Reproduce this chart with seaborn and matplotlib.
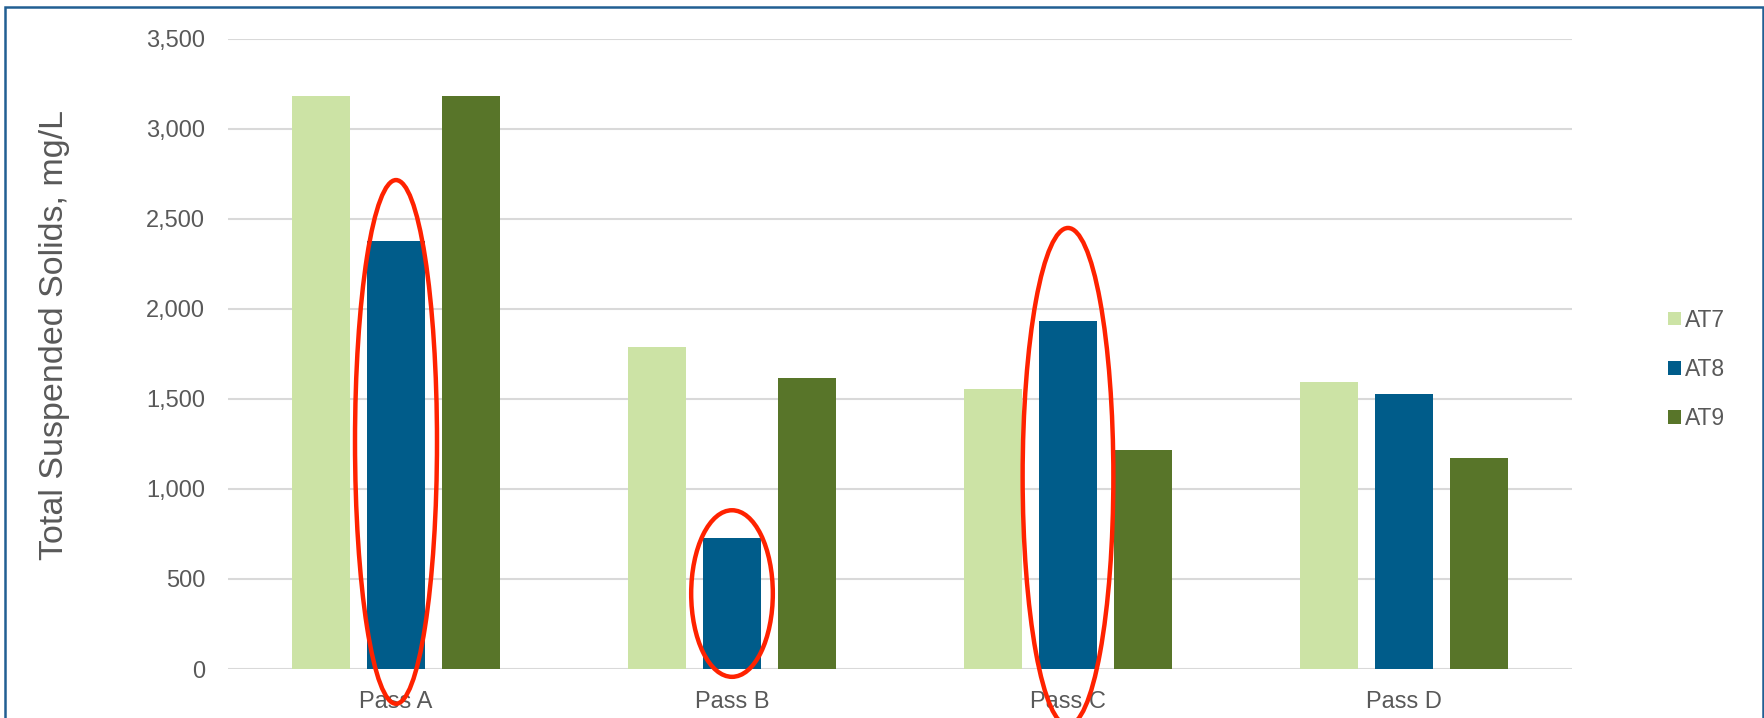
import matplotlib
matplotlib.use("Agg")
import matplotlib.pyplot as plt
from matplotlib.patches import Ellipse, Rectangle
from matplotlib.ticker import FuncFormatter, MultipleLocator
import pandas as pd
import seaborn as sns

# Total suspended solids by pass and aeration tank
passes = ["Pass A", "Pass B", "Pass C", "Pass D"]
tanks = ["AT7", "AT8", "AT9"]
at7 = [3180, 1790, 1557, 1593]
at8 = [2374, 726, 1933, 1528]
at9 = [3180, 1618, 1218, 1171]
tank_colors = ["#CCE3A5", "#005C8A", "#587529"]

# Red rings marking the AT8 bars of interest
ring_passes = ["Pass A", "Pass B", "Pass C"]
ring_mid = [1261, 419, 1068]        # ring centre, mg/L
ring_span = [2908, 925, 2762]       # ring height, mg/L
ring_width = [0.244, 0.243, 0.27]   # ring width, category units

df = pd.DataFrame({
    "Pass": passes * 3,
    "Tank": [t for t in tanks for _ in passes],
    "TSS": at7 + at8 + at9,
})

sns.set_theme(style="white")
plt.rcParams["font.family"] = ["Liberation Sans", "DejaVu Sans"]

W, H = 1765, 718
fig = plt.figure(figsize=(W / 100, H / 100), dpi=100)
ax = fig.add_axes([228 / W, 1 - 669 / H, (1572 - 228) / W, (669 - 38.7) / H])

sns.barplot(data=df, x="Pass", y="TSS", hue="Tank", order=passes,
            hue_order=tanks, palette=tank_colors, width=0.67, gap=0.227,
            saturation=1, linewidth=0, ax=ax, zorder=3)

ax.set_ylim(0, 3500)
ax.set_xlim(-0.5, len(passes) - 0.5)
ax.yaxis.set_major_locator(MultipleLocator(500))
ax.yaxis.set_major_formatter(FuncFormatter(lambda v, _: f"{v:,.0f}"))
ax.grid(axis="y", color="#D9D9D9", linewidth=1.5, zorder=0)
ax.grid(axis="x", visible=False)
ax.set_axisbelow(True)
for s in ax.spines.values():
    s.set_visible(False)
ax.tick_params(axis="both", length=0, labelsize=17, labelcolor="#595959")
ax.tick_params(axis="y", pad=16.5)
ax.tick_params(axis="x", pad=16)
ax.set_xlabel("")
ax.set_ylabel("")

fig.text(55 / W, 1 - 335 / H, "Total Suspended Solids, mg/L", rotation=90,
         ha="center", va="center", fontsize=24.5, color="#595959")

leg = ax.legend(loc="center left", bbox_to_anchor=(1668 / W, 1 - 369.5 / H),
                bbox_transform=fig.transFigure, frameon=False, fontsize=16.5,
                handlelength=0.55, handleheight=0.55, handletextpad=0.2,
                labelspacing=1.15, borderpad=0, borderaxespad=0)
for t in leg.get_texts():
    t.set_color("#595959")

for p, cy, h, w in zip(ring_passes, ring_mid, ring_span, ring_width):
    ring = Ellipse((passes.index(p), cy), w, h, fill=False,
                   edgecolor="#FF2200", linewidth=3.2, zorder=5, clip_on=False)
    ax.add_patch(ring)

# Chart frame (open at the bottom edge)
frame = Rectangle((5 / W, -0.1), (1763 - 5) / W, (1 - 7 / H) + 0.1,
                  transform=fig.transFigure, fill=False, edgecolor="#215F93",
                  linewidth=1.8, zorder=10)
fig.patches.append(frame)

fig.savefig("out.png", dpi=100, facecolor="white")
